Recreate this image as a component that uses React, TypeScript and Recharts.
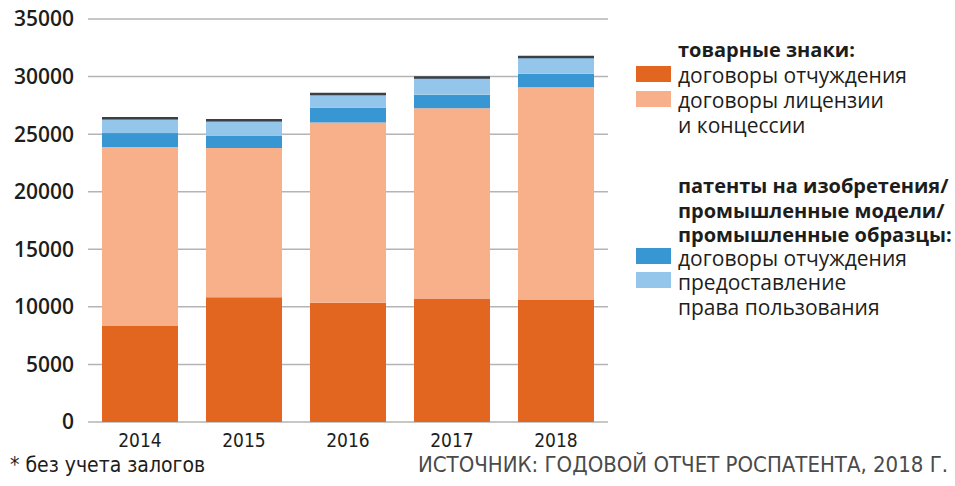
import React from 'react';
import { BarChart, Bar, XAxis, YAxis, CartesianGrid } from 'recharts';

const years = ['2014', '2015', '2016', '2017', '2018'];
const tmAlienation = [8390, 10840, 10350, 10730, 10640];
const tmLicense = [15490, 12950, 15660, 16520, 18430];
const patAlienation = [1210, 1100, 1270, 1180, 1180];
const patUse = [1290, 1320, 1210, 1500, 1440];
const yTicks = [0, 5000, 10000, 15000, 20000, 25000, 30000, 35000];

const data = years.map((y, i) => ({
  year: y,
  tmA: tmAlienation[i],
  tmL: tmLicense[i],
  pA: patAlienation[i],
  pU: patUse[i],
}));

const C_DO = '#e2661f';
const C_LO = '#f8b08a';
const C_DB = '#3896d3';
const C_LB = '#94c6eb';

const TopShape = (props: any) => {
  const { x, y, width, height, fill } = props;
  return (
    <g>
      <rect x={x} y={y} width={width} height={height} fill={fill} />
      <line x1={x} x2={x + width} y1={y} y2={y} stroke="#3a4046" strokeWidth={2.5} />
    </g>
  );
};

const legendFont = '"Open Sans", "Noto Sans", sans-serif';
const narrowFont = '"Liberation Sans Narrow", "DejaVu Sans Condensed", sans-serif';

const Swatch = ({ color, top }: { color: string; top: number }) => (
  <div style={{ position: 'absolute', left: 636, top, width: 35, height: 16, background: color }} />
);

const Line = ({ top, text, bold }: { top: number; text: string; bold?: boolean }) => (
  <div
    style={{
      position: 'absolute',
      left: 678,
      top,
      fontFamily: legendFont,
      fontSize: bold ? 20 : 21,
      fontWeight: bold ? 700 : 400,
      color: '#1d1d1b',
      whiteSpace: 'nowrap',
      lineHeight: '22px',
    }}
  >
    {text}
  </div>
);

export default function App() {
  return (
    <div style={{ position: 'absolute', left: 0, top: 0, width: 955, height: 486, background: '#fff' }}>
      <BarChart
        width={955}
        height={486}
        data={data}
        margin={{ top: 19, right: 347, left: 0, bottom: 34 }}
        barCategoryGap={14}
      >
        <CartesianGrid vertical={false} stroke="#b4b4b4" strokeWidth={1.5} />
        <XAxis
          dataKey="year"
          axisLine={false}
          tickLine={false}
          tickSize={0}
          tickMargin={12}
          height={30}
          tick={{ fontFamily: narrowFont, fontSize: 19, fill: '#1d1d1b' }}
        />
        <YAxis
          width={88}
          domain={[0, 35000]}
          ticks={yTicks}
          axisLine={false}
          tickLine={false}
          tickSize={6}
          tickMargin={8}
          interval={0}
          tick={{ fontFamily: legendFont, fontSize: 21, fontWeight: 600, fill: '#1d1d1b' }}
        />
        <Bar dataKey="tmA" stackId="a" fill={C_DO} isAnimationActive={false} />
        <Bar dataKey="tmL" stackId="a" fill={C_LO} isAnimationActive={false} />
        <Bar dataKey="pA" stackId="a" fill={C_DB} isAnimationActive={false} />
        <Bar dataKey="pU" stackId="a" fill={C_LB} isAnimationActive={false} shape={TopShape} />
      </BarChart>

      <Line top={39} text="товарные знаки:" bold />
      <Swatch color={C_DO} top={66} />
      <Line top={64} text="договоры отчуждения" />
      <Swatch color={C_LO} top={91} />
      <Line top={89} text="договоры лицензии" />
      <Line top={114} text="и концессии" />

      <Line top={175} text="патенты на изобретения/" bold />
      <Line top={200} text="промышленные модели/" bold />
      <Line top={224} text="промышленные образцы:" bold />
      <Swatch color={C_DB} top={248} />
      <Line top={247} text="договоры отчуждения" />
      <Swatch color={C_LB} top={272} />
      <Line top={271} text="предоставление" />
      <Line top={296} text="права пользования" />

      <div
        style={{
          position: 'absolute',
          left: 10,
          top: 456,
          fontFamily: narrowFont,
          fontSize: 21,
          color: '#1d1d1b',
          whiteSpace: 'nowrap',
          lineHeight: '18px',
        }}
      >
        * без учета залогов
      </div>
      <div
        style={{
          position: 'absolute',
          right: 7,
          top: 456,
          fontFamily: narrowFont,
          fontSize: 22,
          color: '#4a4a4a',
          whiteSpace: 'nowrap',
          lineHeight: '18px',
        }}
      >
        ИСТОЧНИК: ГОДОВОЙ ОТЧЕТ РОСПАТЕНТА, 2018 Г.
      </div>
    </div>
  );
}
